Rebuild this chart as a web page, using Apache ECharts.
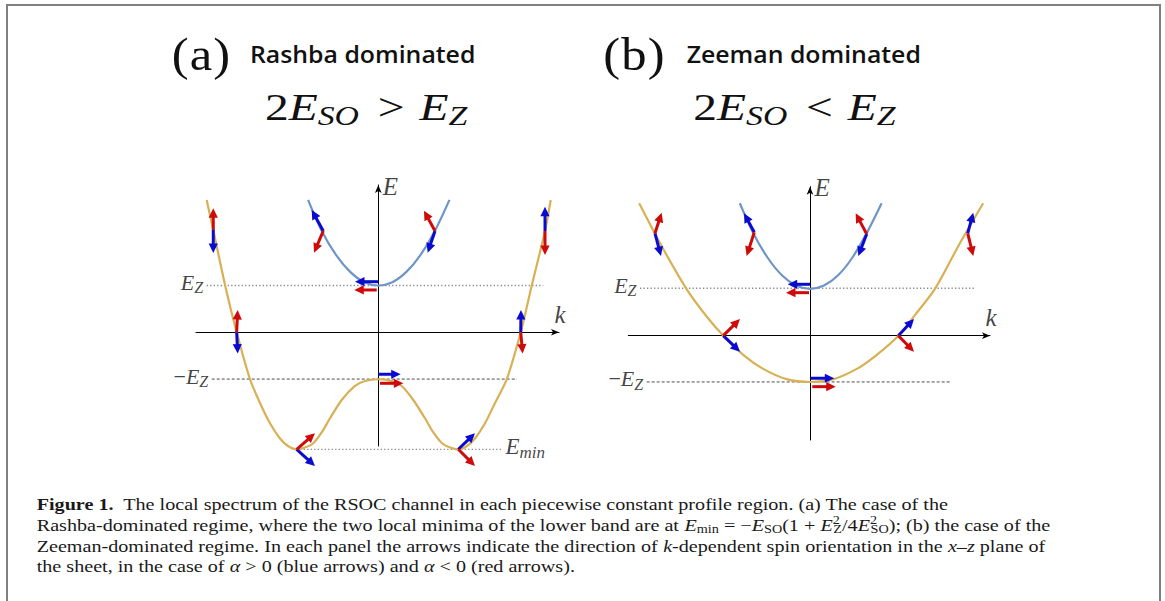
<!DOCTYPE html>
<html><head><meta charset="utf-8">
<script src="https://cdn.jsdelivr.net/npm/echarts@6/dist/echarts.min.js"></script>
<style>
html,body{margin:0;padding:0;background:#fff;overflow:hidden;}
#c{width:1165px;height:601px;position:absolute;left:0;top:0;}
#frame{position:absolute;left:6px;top:4px;width:1151px;height:640px;border:2px solid #808080;border-bottom:none;pointer-events:none;}
</style></head><body>
<div id="c"></div><div id="frame"></div>
<script>
// ---------------- data (k, E in units of E_Z) ----------------
const upperBandA = [[-1.50,2.83],[-1.20,2.15],[-0.90,1.65],[-0.60,1.29],[-0.30,1.07],[0,1.00],[0.30,1.07],[0.60,1.29],[0.90,1.65],[1.20,2.15],[1.52,2.83]];
const lowerBandA = [[-3.667,2.827],[-3.526,2.186],[-3.271,0.996],[-3.026,0],[-2.741,-1.004],[-2.528,-1.511],[-2.314,-1.944],[-2.100,-2.269],[-1.929,-2.429],[-1.744,-2.500],[-1.566,-2.462],[-1.389,-2.372],[-1.203,-2.130],[-1.032,-1.838],[-0.782,-1.447],[-0.498,-1.147],[-0.284,-1.041],[0,-1.004],[0.286,-1.041],[0.500,-1.147],[0.748,-1.447],[0.998,-1.838],[1.169,-2.130],[1.361,-2.372],[1.532,-2.462],[1.709,-2.500],[1.895,-2.429],[2.066,-2.269],[2.280,-1.944],[2.494,-1.511],[2.744,-1.004],[3.043,0],[3.278,0.996],[3.562,2.165],[3.684,2.827]];
const upperBandB = [[-1.50,2.83],[-1.20,2.17],[-0.90,1.66],[-0.60,1.29],[-0.30,1.07],[0,1.00],[0.30,1.07],[0.60,1.29],[0.90,1.66],[1.20,2.17],[1.53,2.83]];
const lowerBandB = [[-3.65,2.83],[-3.20,1.97],[-2.64,1.00],[-2.20,0.40],[-1.85,0],[-1.40,-0.43],[-1.00,-0.71],[-0.50,-0.93],[0,-0.99],[0.50,-0.93],[1.00,-0.71],[1.40,-0.43],[1.89,0],[2.25,0.45],[2.67,1.00],[3.20,1.97],[3.70,2.83]];

// spin arrows: [k_start, E_start, k_tip, E_tip]
const blueArrowsA = [[-3.526,2.186,-3.526,1.694],[-3.026,0,-3.004,-0.456],[-1.744,-2.5,-1.353,-2.857],[1.709,-2.5,2.066,-2.158],[3.043,0,3.049,0.476],[3.562,2.165,3.562,2.684],[-1.175,2.165,-1.423,2.613],[1.212,2.165,1.056,1.701],[0,1.081,-0.498,1.081],[0,-0.897,0.479,-0.897]];
const redArrowsA  = [[-3.526,2.186,-3.526,2.65],[-3.026,0,-3.004,0.476],[-1.744,-2.5,-1.353,-2.158],[1.709,-2.5,2.066,-2.857],[3.043,0,3.085,-0.456],[3.562,2.165,3.562,1.652],[-1.175,2.165,-1.374,1.701],[1.212,2.165,0.976,2.598],[-0.034,0.904,-0.513,0.904],[0.036,-1.09,0.534,-1.09]];
const blueArrowsB = [[-3.312,2.188,-3.184,1.703],[-1.853,0,-1.496,-0.342],[1.887,0,2.222,0.357],[3.37,2.188,3.489,2.628],[-1.19,2.209,-1.41,2.615],[1.212,2.173,1.032,1.703],[0,1.098,-0.476,1.098],[0.015,-0.91,0.519,-0.91]];
const redArrowsB  = [[-3.312,2.188,-3.169,2.628],[-1.853,0,-1.496,0.357],[1.887,0,2.222,-0.342],[3.37,2.188,3.489,1.703],[-1.19,2.209,-1.353,1.703],[1.212,2.173,0.976,2.615],[-0.021,0.919,-0.513,0.919],[0.049,-1.09,0.549,-1.09]];

// reference levels: [k_from, k_to, E]
const levelLinesA = [[-3.667,3.524,1.0],[-3.559,2.964,-1.0],[-1.744,2.664,-2.5]];
const levelLinesB = [[-3.632,3.526,1.013],[-3.49,3.0,-0.989]];
const levelNamesA = ['E_Z','-E_Z','E_min'];
const levelNamesB = ['E_Z','-E_Z'];

// axis extents
const rangeA = {kMin:-3.895,kMax:3.861,eMin:-2.43,eMax:3.147};
const rangeB = {kMin:-3.882,kMax:3.846,eMin:-2.23,eMax:3.184};

const panelTitles = ['Rashba dominated','Zeeman dominated'];
const panelTags = ['a','b'];
const conditions = ['>','<'];

// ---------------- styles ----------------
const SERIF = 'Liberation Serif';
const YELLOW = '#D8B056', STEEL = '#6E95C6', BLUE = '#0B0BD0', RED = '#CF0A0A';

function mrich(size){
  return {
    i:{fontFamily:SERIF,fontStyle:'italic',fontSize:size,color:'#111',lineHeight:size*1.4},
    m:{fontFamily:SERIF,fontStyle:'normal',fontSize:size,color:'#111',lineHeight:size*1.4},
    s:{fontFamily:SERIF,fontStyle:'italic',fontSize:Math.round(size*0.72),color:'#111',lineHeight:size*1.4,padding:[size*0.5,0,0,0]}
  };
}
function texLabel(name){
  if(name==='E_Z') return '{i|E}{s|Z}';
  if(name==='-E_Z') return '{m|−}{i|E}{s|Z}';
  if(name==='E_min') return '{i|E}{s|min}';
  return name;
}

function arrowSeries(data, color, gi){
  return {type:'custom', xAxisIndex:gi, yAxisIndex:gi, data:data, z:10, silent:true, clip:false,
    encode:{x:[0,2],y:[1,3]},
    renderItem:function(params, api){
      const p0 = api.coord([api.value(0),api.value(1)]);
      const p1 = api.coord([api.value(2),api.value(3)]);
      const dx=p1[0]-p0[0], dy=p1[1]-p0[1]; const L=Math.hypot(dx,dy)||1;
      const ux=dx/L, uy=dy/L, hl=9.5, hw=4.6;
      const bx=p1[0]-ux*hl, by=p1[1]-uy*hl;
      return {type:'group',children:[
        {type:'line',shape:{x1:p0[0],y1:p0[1],x2:bx+ux*1.5,y2:by+uy*1.5},style:{stroke:color,lineWidth:3}},
        {type:'polygon',shape:{points:[[p1[0],p1[1]],[bx-uy*hw,by+ux*hw],[bx+uy*hw,by-ux*hw]]},style:{fill:color}}
      ]};
    }};
}

function panelSeries(gi, upper, lower, levels, names, blue, red, range){
  const s = [];
  levels.forEach(function(l,idx){
    const dashed = names[idx]==='-E_Z';
    s.push({type:'line',xAxisIndex:gi,yAxisIndex:gi,data:[[l[0],l[2]],[l[1],l[2]]],symbol:'none',silent:true,clip:false,z:2,
      lineStyle:{color:dashed?'#3a3a3a':'#8a8a8a',width:dashed?0.9:1.3,type:dashed?[3,2]:[1.3,2.2]}});
  });
  s.push({type:'line',xAxisIndex:gi,yAxisIndex:gi,data:lower,smooth:0.25,symbol:'none',silent:true,clip:false,z:3,lineStyle:{color:YELLOW,width:2.2}});
  s.push({type:'line',xAxisIndex:gi,yAxisIndex:gi,data:upper,smooth:0.35,symbol:'none',silent:true,clip:false,z:3,lineStyle:{color:STEEL,width:2.2}});
  s.push(arrowSeries(blue,BLUE,gi));
  s.push(arrowSeries(red,RED,gi));
  const lab = [];
  levels.forEach(function(l,idx){
    const n = names[idx];
    const right = n==='E_min';
    lab.push({value:[right?l[1]:l[0], l[2]], label:{show:true, position:right?'right':'left', distance:right?2:3,
      offset:[0,-3], formatter:texLabel(n), rich:mrich(right?23:22)}});
  });
  lab.push({value:[0,range.eMax],label:{show:true,position:'right',distance:4,offset:[0,1],formatter:'{i|E}',rich:mrich(25)}});
  lab.push({value:[range.kMax,0],label:{show:true,position:'top',distance:0,offset:[1,0],formatter:'{i|k}',rich:mrich(25)}});
  s.push({type:'scatter',xAxisIndex:gi,yAxisIndex:gi,symbolSize:1,clip:false,itemStyle:{color:'rgba(0,0,0,0)'},silent:true,z:12,data:lab});
  return s;
}

function axisPair(gi, r){
  const common = {type:'value',gridIndex:gi,axisTick:{show:false},axisLabel:{show:false},splitLine:{show:false},
    axisLine:{show:true,onZero:true,symbol:['none','arrow'],symbolSize:[5,8],lineStyle:{color:'#000',width:1}}};
  return [Object.assign({},common,{min:r.kMin,max:r.kMax}), Object.assign({},common,{min:r.eMin,max:r.eMax})];
}
const ax0 = axisPair(0,rangeA), ax1 = axisPair(1,rangeB);

// ---------------- text graphics ----------------
function txt(x,y,text,font,rich,sx,color){
  return {type:'group',x:x,y:y,scaleX:sx||1,scaleY:1,silent:true,children:[
    {type:'text',x:0,y:0,silent:true,
     style:{text:text,font:font,fill:color||'#111',rich:rich||{},align:'left',verticalAlign:'middle'}}]};
}
const tagRich = {
  p:{fontFamily:SERIF,fontSize:46,fill:'#111',lineHeight:56},
  a:{fontFamily:SERIF,fontSize:46,fill:'#111',lineHeight:56,padding:[0,1,0,1]}
};
const formulaRich = {
  n:{fontFamily:SERIF,fontSize:38,fontStyle:'normal',fill:'#111',lineHeight:52},
  r:{fontFamily:SERIF,fontSize:38,fontStyle:'normal',fill:'#111',lineHeight:52,padding:[0,12,0,15]},
  i:{fontFamily:SERIF,fontSize:38,fontStyle:'italic',fill:'#111',lineHeight:52},
  s:{fontFamily:SERIF,fontSize:27,fontStyle:'italic',fill:'#111',lineHeight:52,padding:[18,0,0,0]}
};
const CAP = 17, CAPF = CAP+'px "'+SERIF+'"';
const capRich = {
  b:{fontFamily:SERIF,fontSize:CAP,fontWeight:'bold',fill:'#1a1a1a',lineHeight:22},
  i:{fontFamily:SERIF,fontSize:CAP,fontStyle:'italic',fill:'#1a1a1a',lineHeight:22},
  sb:{fontFamily:SERIF,fontSize:12,fill:'#1a1a1a',lineHeight:22,padding:[8,0,0,0]},
  sp:{fontFamily:SERIF,fontSize:12,fill:'#1a1a1a',lineHeight:22,padding:[0,0,11,0],width:0.5}
};
const capLines = [
  '{b|Figure 1.}  The local spectrum of the RSOC channel in each piecewise constant profile region. (a) The case of the',
  'Rashba-dominated regime, where the two local minima of the lower band are at {i|E}{sb|min} = −{i|E}{sb|SO}(1 + {i|E}{sp|2}{sb|Z}/4{i|E}{sp|2}{sb|SO}); (b) the case of the',
  'Zeeman-dominated regime. In each panel the arrows indicate the direction of {i|k}-dependent spin orientation in the {i|x}–{i|z} plane of',
  'the sheet, in the case of {i|α} > 0 (blue arrows) and {i|α} < 0 (red arrows).'
];
const capY = [504, 525.3, 545.8, 566.4];

const graphics = [];
const tagX = [171.7,603.3], titleX=[250,686.7], formX=[265,693.3];
for(let p=0;p<2;p++){
  graphics.push(txt(tagX[p],54,'{p|(}{a|'+panelTags[p]+'}{p|)}',null,tagRich,1.1));
  graphics.push(txt(titleX[p],53.5,panelTitles[p],'600 23px "Open Sans"',null,1.08,'#111'));
  graphics.push(txt(formX[p],107,'{n|2}{i|E}{s|SO}{r|'+conditions[p]+'}{i|E}{s|Z}',null,formulaRich,1.25));
}
capLines.forEach(function(t,i){ graphics.push(txt(36.7,capY[i],t,CAPF,capRich,1.185,'#1a1a1a')); });

const chart = echarts.init(document.getElementById('c'),null,{renderer:'svg',width:1165,height:601});
chart.setOption({
  backgroundColor:'#fff',
  animation:false,
  grid:[{left:196,top:185,width:363,height:261},{left:628.3,top:186.7,width:361.7,height:253.3}],
  xAxis:[ax0[0],ax1[0]],
  yAxis:[ax0[1],ax1[1]],
  series:[].concat(
    panelSeries(0,upperBandA,lowerBandA,levelLinesA,levelNamesA,blueArrowsA,redArrowsA,rangeA),
    panelSeries(1,upperBandB,lowerBandB,levelLinesB,levelNamesB,blueArrowsB,redArrowsB,rangeB)
  ),
  graphic:graphics
});
</script>
</body></html>
